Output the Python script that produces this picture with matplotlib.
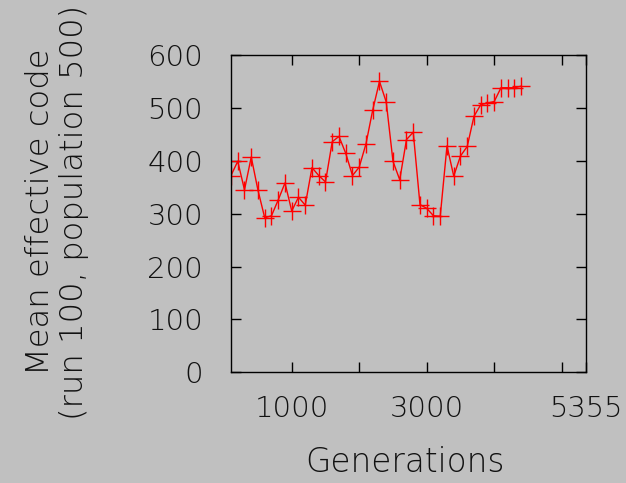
import matplotlib

matplotlib.use("Agg")
import matplotlib.pyplot as plt

# mean effective code per sampled generation
generations = list(range(100, 4500, 100))
mean_code = [
    372, 399, 345, 407, 344, 292, 296, 326, 358, 305,
    331, 316, 387, 372, 360, 436, 446, 414, 372, 388,
    432, 496, 550, 511, 399, 364, 440, 454, 317, 310,
    296, 295, 428, 371, 409, 427, 484, 506, 509, 512,
    538, 538, 538, 541,
]
x_ticks = [1000, 2000, 3000, 4000, 5000, 5355]
x_tick_labels = ["1000", "", "3000", "", "", "5355"]
y_ticks = [0, 100, 200, 300, 400, 500, 600]

bg = "#c0c0c0"
txt = "#111111"
plt.rcParams["font.family"] = "DejaVu Sans"
plt.rcParams["font.weight"] = 200

fig = plt.figure(figsize=(6.26, 4.83), dpi=100, facecolor=bg)
ax = fig.add_axes([0.369, 0.2292, 0.5666, 0.657], facecolor=bg)

ax.plot(generations, mean_code, color="red", lw=1.0, marker="+",
        markersize=13, markeredgewidth=1.0)

ax.set_xlim(100, 5355)
ax.set_ylim(0, 600)
ax.set_xticks(x_ticks)
ax.set_xticklabels(x_tick_labels)
ax.set_yticks(y_ticks)

ax.tick_params(direction="in", length=7, width=1, top=True, right=True,
               labelsize=21, labelcolor=txt, color="black")
ax.tick_params(axis="x", pad=16)
ax.tick_params(axis="y", pad=20)
for s in ax.spines.values():
    s.set_linewidth(1)
    s.set_color("black")

# axis titles placed in figure pixels to match the original layout
fig.text(405 / 626, 1 - 462 / 483, "Generations", fontsize=23.5, color=txt,
         fontweight=200, ha="center", va="center")
fig.text(57 / 626, 1 - 212 / 483, "Mean effective code\n(run 100, population 500)",
         fontsize=23.2, color=txt, fontweight=200, rotation=90,
         ha="center", va="center", linespacing=1.2, multialignment="center")

fig.savefig("out.png", dpi=100, facecolor=bg)
